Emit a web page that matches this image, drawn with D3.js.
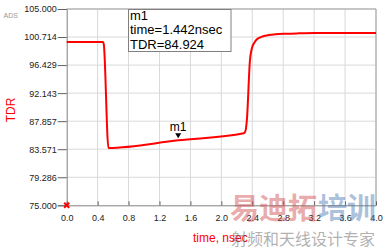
<!DOCTYPE html>
<html>
<head>
<meta charset="utf-8">
<script src="https://cdn.jsdelivr.net/npm/d3@7"></script>
<style>
  body { margin: 0; background: #fff; }
  svg { display: block; font-family: Arial, "Liberation Sans", sans-serif; }
</style>
</head>
<body>
<div id="chart"></div>
<script>
// TDR trace
var timeNs = [0, 0.47, 0.48, 0.54, 1.442, 2.29, 2.31, 2.33, 2.37, 2.395, 2.43, 2.46, 2.51, 2.57, 2.70, 2.83, 3.0, 3.2, 4.0];
var tdr = [99.95, 99.95, 99.6, 83.76, 84.924, 86.0, 86.3, 88.0, 97.2, 99.0, 99.9, 100.37, 100.7, 100.92, 101.13, 101.22, 101.28, 101.32, 101.33];

var yTicks = [75.000, 79.286, 83.571, 87.857, 92.143, 96.429, 100.714, 105.000];
var xTicks = [0, 0.4, 0.8, 1.2, 1.6, 2.0, 2.4, 2.8, 3.2, 3.6, 4.0];

var markerName = "m1";
var markerTime = 1.442;
var markerValue = 84.924;

var svgWidth = 384;
var svgHeight = 248;

var margin = { top: 9, right: 8, bottom: 42.7, left: 66.7 };

var svg = d3.select("#chart")
  .append("svg")
  .attr("width", svgWidth)
  .attr("height", svgHeight);

var x = d3.scaleLinear()
  .domain([0, 4])
  .range([margin.left, svgWidth - margin.right]);

var y = d3.scaleLinear()
  .domain([75, 105])
  .range([svgHeight - margin.bottom, margin.top]);

// grid
svg.append("g")
  .selectAll("line")
  .data(xTicks.slice(1))
  .enter()
  .append("line")
  .attr("x1", d => x(d)).attr("x2", d => x(d))
  .attr("y1", y(105)).attr("y2", y(75))
  .attr("stroke", "#d9d9d9");

svg.append("g")
  .selectAll("line")
  .data(yTicks.slice(1))
  .enter()
  .append("line")
  .attr("x1", x(0)).attr("x2", x(4))
  .attr("y1", d => y(d)).attr("y2", d => y(d))
  .attr("stroke", "#d9d9d9");

// top and right frame
svg.append("path")
  .attr("d", `M${x(0)},${y(105)}H${x(4)}V${y(75)}`)
  .attr("fill", "none")
  .attr("stroke", "#a0a0a0");

// axes
var leftAxis = d3.axisLeft(y)
  .tickValues(yTicks)
  .tickFormat(d3.format(".3f"))
  .tickSize(9)
  .tickPadding(1);

var bottomAxis = d3.axisBottom(x)
  .tickValues(xTicks)
  .tickFormat(d3.format(".1f"))
  .tickSizeInner(-4)
  .tickSizeOuter(0)
  .tickPadding(9);

var gy = svg.append("g")
  .attr("transform", `translate(${x(0)},0)`)
  .call(leftAxis);

var gx = svg.append("g")
  .attr("transform", `translate(0,${y(75)})`)
  .call(bottomAxis);

[gx, gy].forEach(function(g) {
  g.select(".domain").attr("stroke", "#808080");
  g.selectAll(".tick line").attr("stroke", "#606060");
  g.selectAll("text")
    .attr("fill", "#222")
    .style("font-size", "9px");
});

// trace
var pts = timeNs.map((t, i) => [t, tdr[i]]);

var line = d3.line()
  .x(d => x(d[0]))
  .y(d => y(d[1]))
  .curve(d3.curveMonotoneX);

svg.append("path")
  .datum(pts)
  .attr("d", line)
  .attr("fill", "none")
  .attr("stroke", "#ff0000")
  .attr("stroke-width", 2);

// origin cross
var ox = x(0), oy = y(75);
svg.append("path")
  .attr("d", `M${ox - 2.5},${oy - 2.5}L${ox + 2.5},${oy + 2.5}M${ox - 2.5},${oy + 2.5}L${ox + 2.5},${oy - 2.5}`)
  .attr("stroke", "#ff0000")
  .attr("stroke-width", 2);

// marker
var mx = x(markerTime), my = y(markerValue);
svg.append("path")
  .attr("d", `M${mx - 3},${my - 7}L${mx + 3},${my - 7}L${mx},${my - 2}Z`)
  .attr("fill", "#000");

svg.append("text")
  .attr("x", mx)
  .attr("y", my - 9)
  .attr("text-anchor", "middle")
  .style("font-size", "12px")
  .text(markerName);

// marker readout box
var box = svg.append("g").attr("transform", "translate(128.5,9.5)");
box.append("rect")
  .attr("width", 102.5)
  .attr("height", 42)
  .attr("fill", "#fff")
  .attr("stroke", "#808080");

var lines = [markerName, "time=" + markerTime.toFixed(3) + "nsec", "TDR=" + markerValue.toFixed(3)];
box.selectAll("text")
  .data(lines)
  .enter()
  .append("text")
  .attr("x", 1.5)
  .attr("y", (d, i) => 10 + i * 14.5)
  .style("font-size", "13px")
  .attr("fill", "#000")
  .text(d => d);

// labels
svg.append("text")
  .attr("x", 18)
  .attr("y", 18)
  .attr("text-anchor", "end")
  .attr("fill", "#999")
  .style("font-size", "7px")
  .text("ADS");

svg.append("text")
  .attr("transform", "rotate(-90)")
  .attr("x", -110)
  .attr("y", 15)
  .attr("text-anchor", "middle")
  .attr("fill", "#ff0000")
  .style("font-size", "12px")
  .text("TDR");

svg.append("text")
  .attr("x", 193)
  .attr("y", 241.5)
  .attr("fill", "#ff0000")
  .style("font-size", "12px")
  .text("time, nsec");

// watermark
var wm = svg.append("g").attr("opacity", 0.45);
wm.append("text")
  .attr("x", 230).attr("y", 219)
  .style("font-family", "'Noto Sans CJK SC'")
  .style("font-size", "29px")
  .style("font-weight", "bold")
  .attr("fill", "#d04848")
  .text("易迪拓");
wm.append("text")
  .attr("x", 318).attr("y", 219)
  .style("font-family", "'Noto Sans CJK SC'")
  .style("font-size", "29px")
  .style("font-weight", "bold")
  .attr("fill", "#4a78b0")
  .text("培训");
wm.append("text")
  .attr("x", 231).attr("y", 245)
  .style("font-family", "'Noto Sans CJK SC'")
  .style("font-size", "16px")
  .attr("fill", "#555")
  .text("射频和天线设计专家");
</script>
</body>
</html>
